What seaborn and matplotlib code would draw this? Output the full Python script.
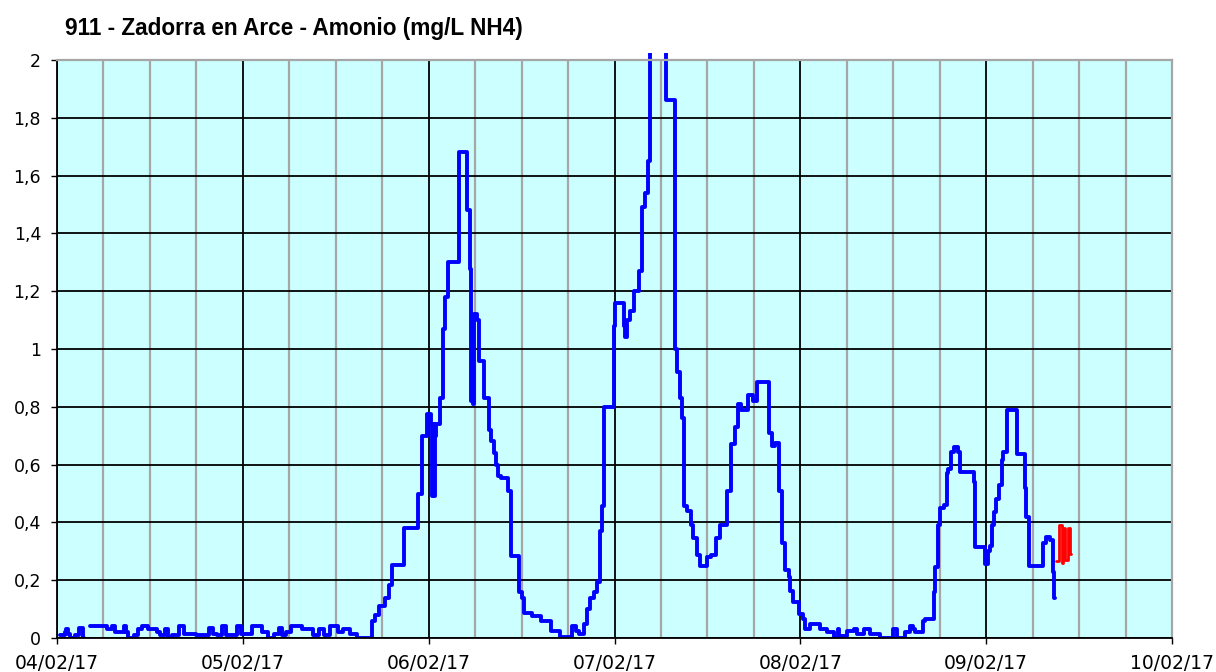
import matplotlib
matplotlib.use("Agg")
import matplotlib.pyplot as plt
import matplotlib.dates as mdates
import matplotlib.transforms as mtransforms
import pandas as pd
import seaborn as sns

start = pd.Timestamp("2017-02-04")

# hours since 04/02/17 00:00 and the step value that starts there (mg/L NH4)
blue_hours_a = [0.35, 1.0, 1.2, 1.45, 1.7, 2.3, 2.9, 3.3, 3.5]
blue_vals_a = [0.01, 0.02, 0.03, 0.015, 0.0, 0.01, 0.035, 0.0, 0.0]

blue_hours_b = [
    4.2, 6.4, 7.1, 7.5, 8.6, 8.9, 9.2, 9.9, 10.5, 11.0, 11.8, 12.9, 13.3, 14.0,
    14.4, 14.8, 15.7, 16.4, 17.9, 19.6, 20.2, 20.6, 21.3, 21.8, 23.3, 23.7,
    25.2, 26.5, 27.2, 28.0, 28.7, 29.1, 29.6, 30.2, 31.7, 33.0, 33.9, 34.5,
    35.2, 36.3, 36.9, 37.8, 38.7, 40.7, 41.1, 41.6, 42.3, 42.9, 43.3, 44.8,
    46.6, 47.1, 47.8, 48.3, 48.4, 48.55, 48.7, 48.85, 49.0, 49.5, 49.9, 50.1,
    50.5, 51.9, 52.9, 53.3, 53.5, 53.6, 53.7, 53.8, 54.2, 54.5, 55.2, 55.8,
    56.1, 56.4, 56.7, 57.0, 57.3, 58.2, 58.6, 59.7, 60.0, 60.3, 61.4, 62.5,
    63.8, 64.9, 66.5, 67.0, 67.4, 68.0, 68.4, 68.9, 69.3, 69.7, 70.1, 70.4,
    70.6, 71.9, 72.1, 73.2, 73.4, 73.6, 74.0, 74.5, 75.1, 75.5, 76.0, 76.3,
    76.6, 78.7, 79.8, 80.1, 80.4, 80.7, 81.0, 81.4, 81.9, 82.2, 82.6, 83.1,
    83.9, 84.4, 85.1, 85.6, 86.5, 87.0, 87.5, 88.0, 88.4, 89.3, 89.9, 90.4,
    91.9, 92.3, 92.7, 93.2, 93.6, 94.0, 94.5, 94.7, 95.1, 95.8, 96.4, 96.6,
    97.3, 98.6, 99.4, 100.3, 100.8, 101.0, 102.0, 102.9, 103.3, 104.2, 105.0,
    106.3, 108.0, 108.5, 109.5, 110.2, 110.5, 110.8, 111.9, 112.1, 113.2,
    113.4, 113.8, 114.0, 114.5, 114.9, 115.1, 115.4, 115.8, 116.4, 116.6,
    118.4, 118.6, 119.8, 120.3, 120.5, 120.7, 121.0, 121.3, 121.6, 122.0,
    122.2, 122.7, 124.0, 125.0, 125.2, 125.5, 127.3, 127.7, 128.2, 128.6,
    128.7, 128.95,
]
blue_vals_b = [
    0.04, 0.03, 0.04, 0.02, 0.04, 0.02, 0.0, 0.01, 0.03, 0.04, 0.03, 0.02, 0.01, 0.03,
    0.0, 0.01, 0.04, 0.015, 0.01, 0.035, 0.015, 0.01, 0.04, 0.01, 0.04, 0.015,
    0.04, 0.02, 0.0, 0.015, 0.035, 0.01, 0.02, 0.04, 0.03, 0.01, 0.03, 0.01,
    0.04, 0.02, 0.03, 0.015, 0.0, 0.058, 0.08, 0.11, 0.14, 0.185, 0.254, 0.38,
    0.497, 0.70, 0.774, 0.74, 0.49, 0.74, 0.49, 0.70, 0.74, 0.83, 1.07, 1.18,
    1.30, 1.68, 1.48, 1.276, 0.82, 1.06, 0.81, 1.12, 1.10, 0.96, 0.83, 0.72,
    0.68, 0.64, 0.60, 0.56, 0.555, 0.51, 0.283, 0.16, 0.14, 0.087, 0.075, 0.058,
    0.023, 0.005, 0.04, 0.025, 0.013, 0.05, 0.10, 0.14, 0.16, 0.195, 0.37, 0.456,
    0.80, 1.08, 1.16, 1.08, 1.04, 1.10, 1.13, 1.20, 1.27, 1.49, 1.54, 1.65,
    2.4, 1.86, 1.0, 0.92, 0.83, 0.76, 0.456, 0.44, 0.39, 0.345, 0.287, 0.25,
    0.28, 0.287, 0.345, 0.39, 0.51, 0.67, 0.73, 0.81, 0.79, 0.84, 0.82, 0.886,
    0.71, 0.665, 0.675, 0.51, 0.33, 0.235, 0.21, 0.163, 0.124, 0.083, 0.066, 0.03,
    0.049, 0.03, 0.02, 0.0, 0.03, 0.008, 0.025, 0.03, 0.014, 0.03, 0.014,
    0.0, 0.03, 0.0, 0.02, 0.043, 0.03, 0.02, 0.06, 0.066, 0.16,
    0.245, 0.39, 0.45, 0.46, 0.57, 0.586, 0.644, 0.66, 0.645, 0.575,
    0.54, 0.315, 0.256, 0.30, 0.32, 0.39, 0.436, 0.48, 0.53, 0.615,
    0.644, 0.79, 0.638, 0.52, 0.42, 0.25, 0.33, 0.35, 0.34, 0.23,
    0.14, 0.14,
]

red_hours = [129.05, 129.35, 129.85, 129.95, 130.2, 130.6, 130.85, 130.9]
red_vals = [0.265, 0.39, 0.26, 0.38, 0.27, 0.38, 0.29, 0.29]

day_labels = ["04/02/17", "05/02/17", "06/02/17", "07/02/17", "08/02/17", "09/02/17", "10/02/17"]
y_ticks = [0, 0.2, 0.4, 0.6, 0.8, 1.0, 1.2, 1.4, 1.6, 1.8, 2.0]
y_labels = ["0", "0,2", "0,4", "0,6", "0,8", "1", "1,2", "1,4", "1,6", "1,8", "2"]

title = "911 - Zadorra en Arce - Amonio (mg/L NH4)"


def to_frame(hours, vals, seg):
    return pd.DataFrame({
        "time": start + pd.to_timedelta(hours, unit="h"),
        "value": vals,
        "seg": seg,
    })


blue_df = pd.concat([to_frame(blue_hours_a, blue_vals_a, "a"),
                     to_frame(blue_hours_b, blue_vals_b, "b")])
red_df = to_frame(red_hours, red_vals, "r")

sns.set_style("ticks")
plt.rcParams["font.family"] = ["DejaVu Sans"]

fig = plt.figure(figsize=(12.16, 6.72), dpi=100)
ax = fig.add_axes([57 / 1216, 34 / 672, 1115 / 1216, 578 / 672])
ax.set_facecolor("#CCFFFF")

sns.lineplot(data=blue_df, x="time", y="value", units="seg", estimator=None,
             drawstyle="steps-post", color="#0000FF", lw=2.8, ax=ax, legend=False)
sns.lineplot(data=red_df, x="time", y="value", units="seg", estimator=None,
             drawstyle="steps-post", color="#FF0000", lw=2.0, ax=ax, legend=False)

# let the trace poke slightly above the frame, like the original
clip = mtransforms.TransformedBbox(mtransforms.Bbox([[0, 0], [1, 1.012]]), ax.transAxes)
for line in ax.lines:
    line.set_clip_box(clip)

days = pd.date_range(start, periods=len(day_labels), freq="D")
ax.set_xlim(days[0], days[-1])
ax.set_ylim(0, 2)
ax.set_xticks(days, labels=day_labels)
ax.xaxis.set_minor_locator(mdates.HourLocator(byhour=[0, 6, 12, 18]))
ax.set_yticks(y_ticks, labels=y_labels)

ax.grid(which="major", color="black", lw=1.3)
ax.grid(which="minor", axis="x", color="#A6A6A6", lw=1.6)

ax.tick_params(which="major", length=4.5, width=1, color="black", pad=7,
               labelcolor="black")
ax.tick_params(axis="x", which="major", labelsize=13.5)
ax.tick_params(axis="y", which="major", labelsize=12.5)
ax.tick_params(which="minor", length=0)

for side in ["left", "bottom"]:
    ax.spines[side].set_color("black")
    ax.spines[side].set_linewidth(1.3)
for side in ["top", "right"]:
    ax.spines[side].set_visible(True)
    ax.spines[side].set_color("#A6A6A6")
    ax.spines[side].set_linewidth(1.6)

ax.set_xlabel("")
ax.set_ylabel("")

fig.text(65 / 1216, 1 - 29 / 672, title, ha="left", va="center", color="black",
         fontsize=16.3, fontweight="bold",
         family=["Liberation Sans", "DejaVu Sans"])

fig.savefig("out.png", dpi=100, facecolor="white")
